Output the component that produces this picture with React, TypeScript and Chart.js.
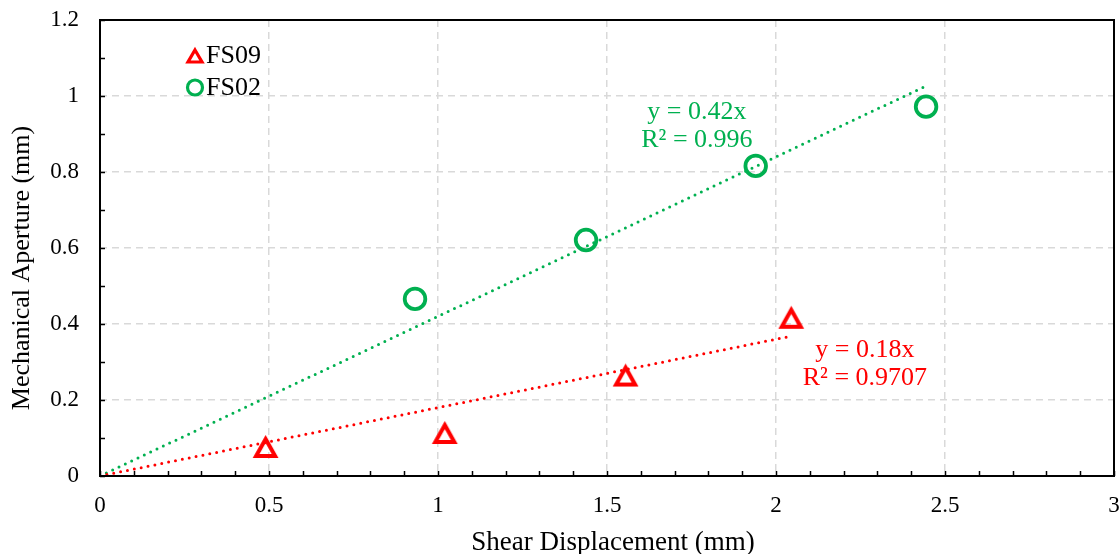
import React, { useEffect, useRef } from 'react';
import { Chart, registerables } from 'chart.js';

Chart.register(...registerables);

// ---- data ----
const seriesNames = ['FS09', 'FS02'];
const fs09X = [0.49, 1.02, 1.555, 2.045];
const fs09Y = [0.075, 0.112, 0.263, 0.415];
const fs02X = [0.932, 1.438, 1.94, 2.444];
const fs02Y = [0.466, 0.621, 0.816, 0.972];
const trendSlopes = [0.18, 0.42];
const trendEndX = [2.05, 2.45];
const trendTexts = [
  ['y = 0.18x', 'R² = 0.9707'],
  ['y = 0.42x', 'R² = 0.996'],
];
const xTickValues = [0, 0.5, 1, 1.5, 2, 2.5, 3];
const yTickValues = [0, 0.2, 0.4, 0.6, 0.8, 1, 1.2];
const xMinorStep = 0.1;
const yMinorStep = 0.1;
const xTitle = 'Shear Displacement (mm)';
const yTitle = 'Mechanical Aperture (mm)';

const RED = '#FF0000';
const GREEN = '#00B050';
const FONT = '"Liberation Serif", "Times New Roman", serif';

function makeTriangle(w: number, h: number, lw: number, color: string) {
  const pad = Math.ceil(lw * 2) + 2;
  const c = document.createElement('canvas');
  c.width = Math.ceil(w + pad * 2);
  c.height = Math.ceil(h + pad * 2);
  const ctx = c.getContext('2d')!;
  const cx = c.width / 2;
  const cy = c.height / 2;
  ctx.beginPath();
  ctx.moveTo(cx, cy - h / 2);
  ctx.lineTo(cx + w / 2, cy + h / 2);
  ctx.lineTo(cx - w / 2, cy + h / 2);
  ctx.closePath();
  ctx.lineWidth = lw;
  ctx.strokeStyle = color;
  ctx.lineJoin = 'miter';
  ctx.stroke();
  return c;
}

const framePlugin = {
  id: 'frame',
  afterDraw(chart: any) {
    const { ctx, chartArea: a, scales } = chart;
    const xs = scales.x;
    const ys = scales.y;
    ctx.save();
    ctx.strokeStyle = '#000';
    ctx.lineWidth = 1.5;
    const nx = Math.round((xs.max - xs.min) / xMinorStep);
    for (let i = 0; i <= nx; i++) {
      const px = Math.round(xs.getPixelForValue(xs.min + i * xMinorStep)) + 0.5;
      ctx.beginPath();
      ctx.moveTo(px, a.bottom);
      ctx.lineTo(px, a.bottom - 5);
      ctx.stroke();
    }
    const ny = Math.round((ys.max - ys.min) / yMinorStep);
    for (let i = 0; i <= ny; i++) {
      const py = Math.round(ys.getPixelForValue(ys.min + i * yMinorStep)) + 0.5;
      ctx.beginPath();
      ctx.moveTo(a.left, py);
      ctx.lineTo(a.left + 5, py);
      ctx.stroke();
    }
    ctx.lineWidth = 2;
    ctx.strokeRect(a.left, a.top, a.right - a.left, a.bottom - a.top);

    // axis titles
    ctx.fillStyle = '#000';
    ctx.textAlign = 'center';
    ctx.textBaseline = 'middle';
    ctx.font = `27px ${FONT}`;
    ctx.fillText(xTitle, 613, 543);
    ctx.save();
    ctx.translate(22, 268);
    ctx.rotate(-Math.PI / 2);
    ctx.font = `26px ${FONT}`;
    ctx.fillText(yTitle, 0, 0);
    ctx.restore();
    ctx.restore();
  },
};

const legendPlugin = {
  id: 'insideLegend',
  afterDraw(chart: any) {
    const { ctx } = chart;
    ctx.save();
    const tri = makeTriangle(14, 12, 3.2, RED);
    ctx.drawImage(tri, 195 - tri.width / 2, 56 - tri.height / 2);
    ctx.beginPath();
    ctx.arc(195, 87.5, 7.5, 0, Math.PI * 2);
    ctx.lineWidth = 3.2;
    ctx.strokeStyle = GREEN;
    ctx.stroke();
    ctx.fillStyle = '#000';
    ctx.font = `26px ${FONT}`;
    ctx.textAlign = 'left';
    ctx.textBaseline = 'middle';
    ctx.fillText(seriesNames[0], 206, 56);
    ctx.fillText(seriesNames[1], 206, 88);
    ctx.restore();
  },
};

const trendLabelAnchors = [
  { x: 2.263, y: [0.332, 0.258], color: RED },
  { x: 1.766, y: [0.958, 0.884], color: GREEN },
];

const annotationPlugin = {
  id: 'trendLabels',
  afterDatasetsDraw(chart: any) {
    const { ctx, scales } = chart;
    ctx.save();
    ctx.font = `26px ${FONT}`;
    ctx.textAlign = 'center';
    ctx.textBaseline = 'middle';
    trendTexts.forEach((lines, i) => {
      const anc = trendLabelAnchors[i];
      ctx.fillStyle = anc.color;
      lines.forEach((t, j) => {
        ctx.fillText(t, scales.x.getPixelForValue(anc.x), scales.y.getPixelForValue(anc.y[j]));
      });
    });
    ctx.restore();
  },
};

function zeroPad(s: any) {
  s.paddingTop = 0;
  s.paddingBottom = 0;
  s.paddingLeft = 0;
  s.paddingRight = 0;
}

export default function App() {
  const ref = useRef<HTMLCanvasElement | null>(null);

  useEffect(() => {
    if (!ref.current) return;
    Chart.defaults.font.family = FONT;
    const triMarker = makeTriangle(19, 17, 4, RED);
    const trendData = trendSlopes.map((m, i) => [
      { x: 0, y: 0 },
      { x: trendEndX[i], y: m * trendEndX[i] },
    ]);
    const chart = new Chart(ref.current, {
      type: 'scatter',
      data: {
        datasets: [
          {
            label: seriesNames[0],
            data: fs09X.map((x, i) => ({ x, y: fs09Y[i] })),
            pointStyle: triMarker as any,
            pointRadius: 12,
            borderColor: RED,
            backgroundColor: 'transparent',
          },
          {
            label: seriesNames[1],
            data: fs02X.map((x, i) => ({ x, y: fs02Y[i] })),
            pointStyle: 'circle',
            pointRadius: 10.3,
            borderWidth: 3.8,
            borderColor: GREEN,
            backgroundColor: 'transparent',
          },
          {
            label: 'Linear (FS09)',
            data: trendData[0],
            showLine: true,
            borderColor: RED,
            borderWidth: 3,
            borderDash: [0, 7],
            borderCapStyle: 'round',
            pointRadius: 0,
          } as any,
          {
            label: 'Linear (FS02)',
            data: trendData[1],
            showLine: true,
            borderColor: GREEN,
            borderWidth: 3,
            borderDash: [0, 7],
            borderCapStyle: 'round',
            pointRadius: 0,
          } as any,
        ],
      },
      options: {
        animation: false,
        responsive: false,
        maintainAspectRatio: false,
        layout: { autoPadding: false, padding: { top: 20, right: 5, left: 0, bottom: 0 } },
        plugins: { legend: { display: false }, tooltip: { enabled: false } },
        scales: {
          x: {
            type: 'linear',
            min: 0,
            max: 3,
            afterBuildTicks: (s: any) => {
              s.ticks = xTickValues.map((v) => ({ value: v }));
            },
            afterFit: (s: any) => {
              s.height = 78;
              zeroPad(s);
            },
            ticks: {
              font: { size: 23 },
              color: '#000',
              padding: 16,
              maxRotation: 0,
              autoSkip: false,
              callback: (v: any) => String(v),
            },
            grid: { color: '#d9d9d9', lineWidth: 1.5, drawTicks: false },
            border: { display: false, dash: [7, 5] },
            title: { display: false },
          },
          y: {
            type: 'linear',
            min: 0,
            max: 1.2,
            afterBuildTicks: (s: any) => {
              s.ticks = yTickValues.map((v) => ({ value: v }));
            },
            afterFit: (s: any) => {
              s.width = 100;
              zeroPad(s);
            },
            ticks: {
              font: { size: 23 },
              color: '#000',
              padding: 21,
              autoSkip: false,
              callback: (v: any) => String(v),
            },
            grid: { color: '#d9d9d9', lineWidth: 1.5, drawTicks: false },
            border: { display: false, dash: [7, 5] },
            title: { display: false },
          },
        },
      } as any,
      plugins: [framePlugin, legendPlugin, annotationPlugin],
    });
    return () => chart.destroy();
  }, []);

  return (
    <div style={{ position: 'fixed', left: 0, top: 0, width: 1119, height: 554, background: '#fff' }}>
      <canvas ref={ref} width={1119} height={554} style={{ display: 'block' }} />
    </div>
  );
}
